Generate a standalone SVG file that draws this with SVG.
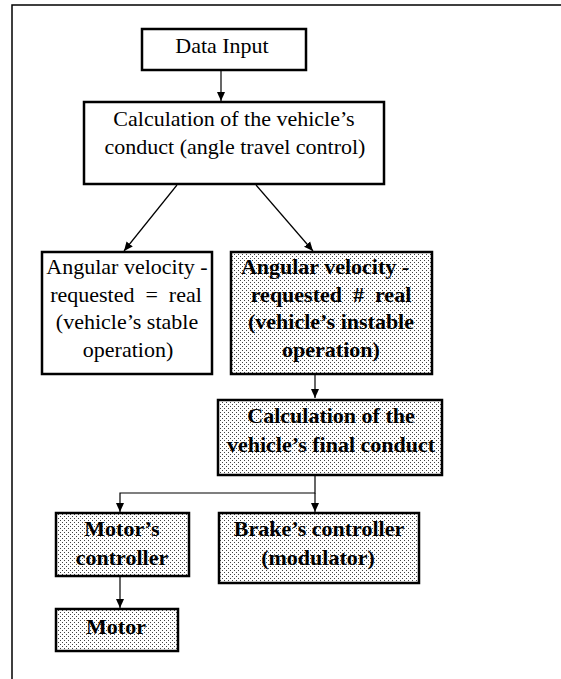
<svg xmlns="http://www.w3.org/2000/svg" width="561" height="679" viewBox="0 0 561 679">
<style>
.box{fill:#fff;stroke:#000;stroke-width:2.5}
.sh{fill:url(#dots);stroke:#000;stroke-width:2.5}
text{font-family:'Liberation Serif','DejaVu Serif',serif;font-size:22px;fill:#000;text-anchor:middle}
.b{font-weight:bold}
.c{fill:none;stroke:#000;stroke-width:1.2}
</style>
<defs>
<pattern id="dots" width="4" height="4" patternUnits="userSpaceOnUse">
<rect width="4" height="4" fill="#fff"/>
<rect x="0" y="0" width="1" height="1" fill="#444"/>
<rect x="2" y="2" width="1" height="1" fill="#444"/>
</pattern>
<marker id="ah" markerWidth="10" markerHeight="10" refX="9" refY="5" orient="auto" markerUnits="userSpaceOnUse">
<path d="M0,1 L9,5 L0,9 Z" fill="#000"/>
</marker>
</defs>
<rect x="12" y="5" width="600" height="720" fill="#fff" stroke="#000" stroke-width="1.5"/>
<g id="connectors">
<line class="c" x1="221" y1="70" x2="221" y2="101" marker-end="url(#ah)"/>
<line class="c" x1="177" y1="185" x2="124" y2="251" marker-end="url(#ah)"/>
<line class="c" x1="256" y1="185" x2="313" y2="251" marker-end="url(#ah)"/>
<line class="c" x1="315" y1="374" x2="315" y2="398" marker-end="url(#ah)"/>
<polyline class="c" points="315,475 315,493 120,493 120,512" marker-end="url(#ah)"/>
<line class="c" x1="315" y1="493" x2="315" y2="512" marker-end="url(#ah)"/>
<line class="c" x1="120" y1="576" x2="120" y2="608" marker-end="url(#ah)"/>
</g>
<g id="data-input">
<rect class="box" x="142" y="29" width="164" height="41"/>
<text x="222" y="53">Data Input</text>
</g>
<g id="calc-conduct">
<rect class="box" x="84" y="102" width="300" height="82"/>
<text x="234" y="126">Calculation of the vehicle’s</text>
<text x="235" y="154">conduct (angle travel control)</text>
</g>
<g id="stable">
<rect class="box" x="42" y="252" width="170" height="122"/>
<text x="127" y="274">Angular velocity -</text>
<text x="126" y="302" xml:space="preserve">requested  =  real</text>
<text x="127" y="329">(vehicle’s stable</text>
<text x="128" y="357">operation)</text>
</g>
<g id="instable">
<rect class="sh" x="231" y="252" width="201" height="122"/>
<text class="b" x="325" y="274">Angular velocity -</text>
<text class="b" x="331" y="302" xml:space="preserve">requested  #  real</text>
<text class="b" x="331" y="329">(vehicle’s instable</text>
<text class="b" x="331" y="357">operation)</text>
</g>
<g id="final-conduct">
<rect class="sh" x="218" y="400" width="224" height="75"/>
<text class="b" x="331" y="423">Calculation of the</text>
<text class="b" x="331" y="452">vehicle’s final conduct</text>
</g>
<g id="motor-controller">
<rect class="sh" x="56" y="513" width="133" height="63"/>
<text class="b" x="122" y="536">Motor’s</text>
<text class="b" x="122" y="565">controller</text>
</g>
<g id="brake-controller">
<rect class="sh" x="219" y="513" width="200" height="70"/>
<text class="b" x="319" y="536">Brake’s controller</text>
<text class="b" x="318" y="565">(modulator)</text>
</g>
<g id="motor">
<rect class="sh" x="56" y="609" width="122" height="42"/>
<text class="b" x="116" y="634">Motor</text>
</g>
</svg>
